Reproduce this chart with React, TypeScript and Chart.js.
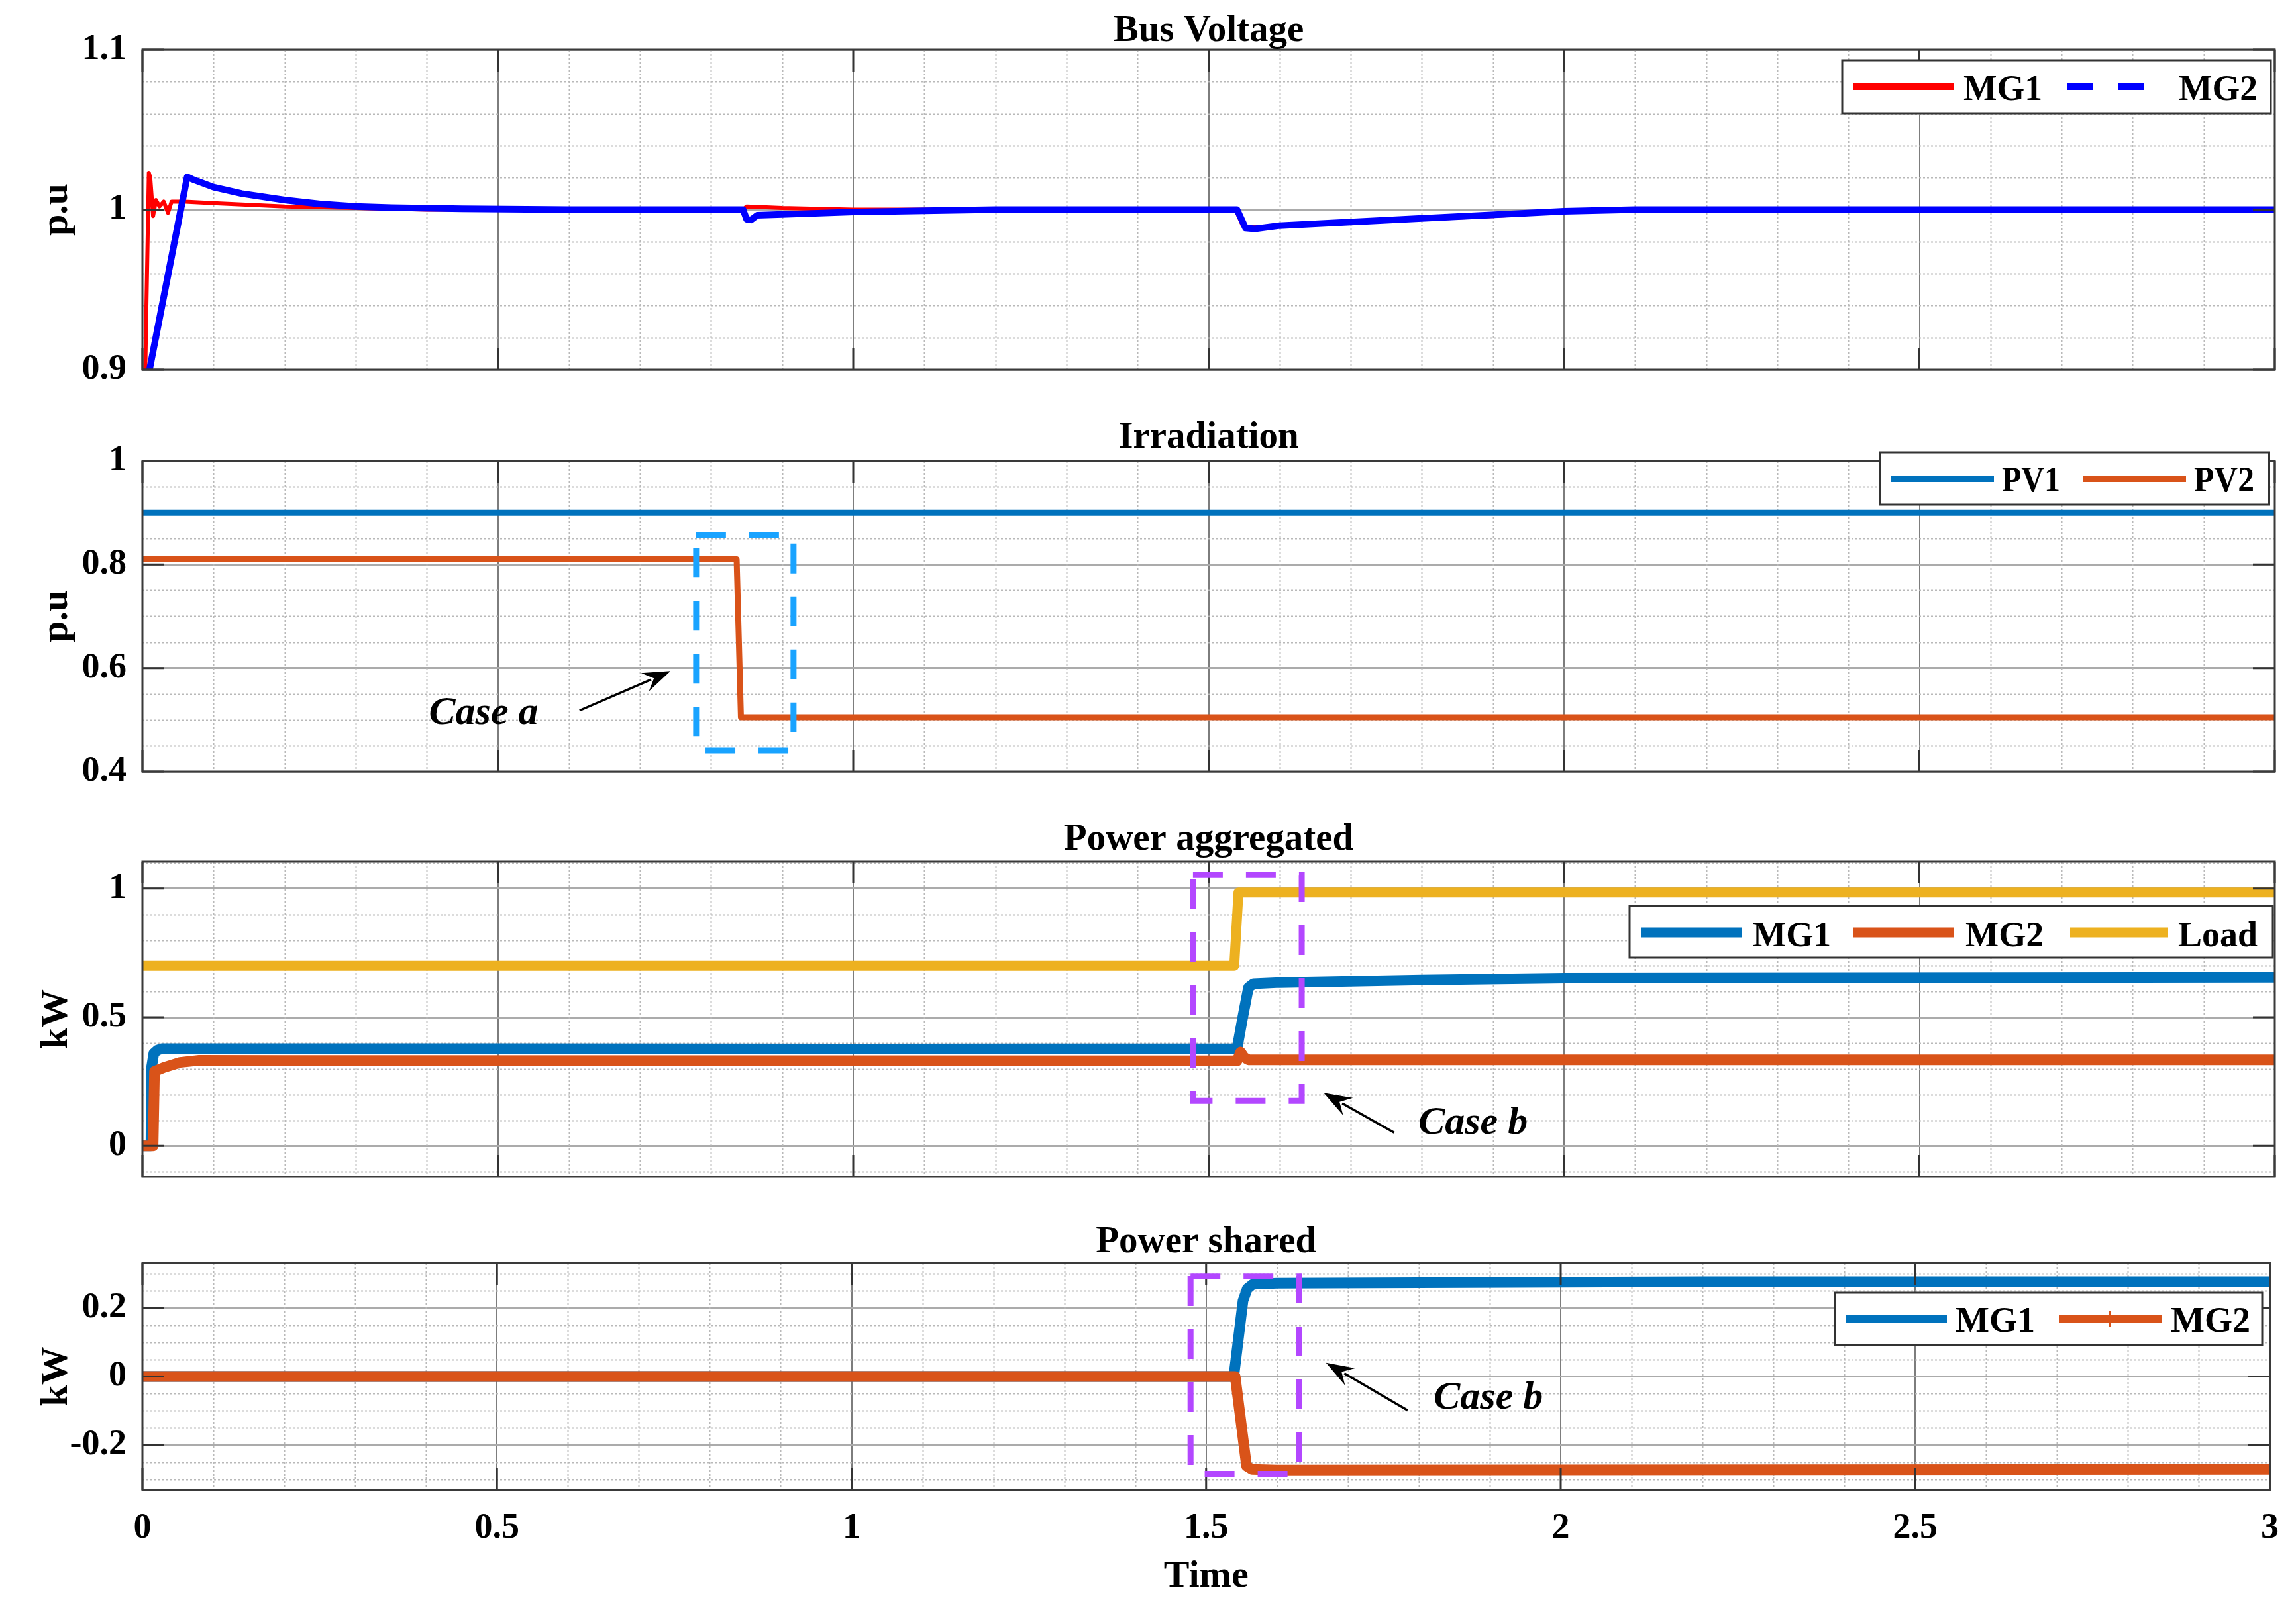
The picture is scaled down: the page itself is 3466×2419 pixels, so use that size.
import React, { useEffect, useRef } from "react";
import { Chart, registerables } from "chart.js";

Chart.register(...registerables);

const SERIF = '"Liberation Serif", "Times New Roman", Times, serif';

// ---------------- DATA ----------------
const TIME_TICKS = [0, 0.5, 1, 1.5, 2, 2.5, 3];

// Bus Voltage (p.u)
const BUS_MG1_T = [0, 0.004, 0.009, 0.011, 0.015, 0.019, 0.024, 0.03, 0.036, 0.041, 0.06, 0.1, 0.15, 0.2, 0.3, 0.4, 0.845, 0.85, 0.9, 1.0, 1.538, 1.548, 1.56, 1.7, 1.9, 2.05, 3];
const BUS_MG1_V = [0.9, 0.9, 1.023, 1.02, 0.996, 1.006, 1.002, 1.005, 0.998, 1.005, 1.005, 1.004, 1.003, 1.002, 1.001, 1.0, 1.0, 1.002, 1.001, 1.0, 1.0, 0.99, 0.989, 0.992, 0.996, 1.0, 1.0];
const BUS_MG2_T = [0.01, 0.063, 0.07, 0.1, 0.14, 0.2, 0.25, 0.3, 0.35, 0.45, 0.6, 0.845, 0.85, 0.856, 0.865, 0.9, 1.0, 1.1, 1.2, 1.54, 1.552, 1.565, 1.6, 1.8, 2.0, 2.1, 3];
const BUS_MG2_V = [0.9, 1.0205, 1.019, 1.014, 1.01, 1.006, 1.0035, 1.002, 1.0012, 1.0005, 1.0, 1.0, 0.994, 0.9935, 0.9965, 0.997, 0.9985, 0.9993, 1.0, 1.0, 0.9885, 0.988, 0.99, 0.9945, 0.999, 1.0, 1.0];
const BUS_Y_TICKS = [0.9, 1, 1.1];

// Irradiation (p.u)
const PV1_T = [0, 3];
const PV1_V = [0.9, 0.9];
const PV2_T = [0, 0.836, 0.842, 3];
const PV2_V = [0.81, 0.81, 0.505, 0.505];
const IRR_Y_TICKS = [0.4, 0.6, 0.8, 1];

// Power aggregated (kW)
const AGG_MG1_T = [0, 0.012, 0.0125, 0.016, 0.021, 0.027, 0.5, 1.0, 1.54, 1.548, 1.556, 1.563, 1.6, 1.8, 2.0, 3];
const AGG_MG1_V = [0, 0, 0.3, 0.36, 0.372, 0.378, 0.378, 0.377, 0.378, 0.5, 0.615, 0.63, 0.635, 0.645, 0.652, 0.655];
const AGG_MG2_T = [0, 0.015, 0.017, 0.03, 0.053, 0.08, 0.2, 1.54, 1.545, 1.55, 1.556, 3];
const AGG_MG2_V = [0, 0, 0.29, 0.305, 0.325, 0.333, 0.332, 0.331, 0.365, 0.345, 0.335, 0.335];
const LOAD_T = [0, 1.536, 1.542, 3];
const LOAD_V = [0.7, 0.7, 0.985, 0.985];
const AGG_Y_TICKS = [0, 0.5, 1];

// Power shared (kW)
const SH_MG1_T = [0, 1.539, 1.552, 1.558, 1.566, 1.6, 2.2, 3];
const SH_MG1_V = [0, 0, 0.22, 0.255, 0.268, 0.271, 0.275, 0.275];
const SH_MG2_T = [0, 1.541, 1.557, 1.565, 1.6, 3];
const SH_MG2_V = [0, 0, -0.26, -0.27, -0.272, -0.27];
const SH_Y_TICKS = [-0.2, 0, 0.2];

// ---------------- STYLE / LAYOUT ----------------
const C_RED = "#ff0000";
const C_BLUE = "#0000ff";
const C_MB = "#0072bd";
const C_MO = "#d95319";
const C_MY = "#edb120";
const C_CYAN = "#19a3ff";
const C_PURPLE = "#b347ff";

const W = 3466;
const LEFT = 215;
const RIGHT_PAD = 32;

type Series = { label: string; t: number[]; v: number[]; color: string; width: number };
type LegendItem = { x0: number; x1: number; color: string; width: number; dash?: number[]; marker?: boolean; text: string; tx: number; tw: number };
type Plot = {
  key: string;
  top: number;
  height: number;
  padTop: number;
  xH: number;
  yMin: number;
  yMax: number;
  yTicks: number[];
  yMinor: number;
  yLabel: string;
  title: string;
  titleBase: number;
  showX: boolean;
  series: Series[];
  legend: { box: number[]; lineY: number; textBase: number; items: LegendItem[] };
  boxes: { x0: number; x1: number; y0: number; y1: number; color: string }[];
  arrows: { tx: number; ty: number; hx: number; hy: number }[];
  notes: { text: string; x: number; y: number }[];
};

const PLOTS: Plot[] = [
  {
    key: "bus", top: 0, height: 620, padTop: 75, xH: 62,
    yMin: 0.9, yMax: 1.1, yTicks: BUS_Y_TICKS, yMinor: 0.02, yLabel: "p.u",
    title: "Bus Voltage", titleBase: 62, showX: false,
    series: [
      { label: "MG1", t: BUS_MG1_T, v: BUS_MG1_V, color: C_RED, width: 6 },
      { label: "MG2", t: BUS_MG2_T, v: BUS_MG2_V, color: C_BLUE, width: 10 },
    ],
    legend: {
      box: [2781, 91, 3428, 171], lineY: 131, textBase: 151,
      items: [
        { x0: 2798, x1: 2950, color: C_RED, width: 10, text: "MG1", tx: 2964, tw: 119 },
        { x0: 3120, x1: 3237, color: C_BLUE, width: 10, dash: [39, 39], text: "MG2", tx: 3289, tw: 119 },
      ],
    },
    boxes: [], arrows: [], notes: [],
  },
  {
    key: "irr", top: 620, height: 620, padTop: 76, xH: 75,
    yMin: 0.4, yMax: 1.0, yTicks: IRR_Y_TICKS, yMinor: 0.05, yLabel: "p.u",
    title: "Irradiation", titleBase: 676, showX: false,
    series: [
      { label: "PV1", t: PV1_T, v: PV1_V, color: C_MB, width: 9 },
      { label: "PV2", t: PV2_T, v: PV2_V, color: C_MO, width: 9 },
    ],
    legend: {
      box: [2838, 683, 3425, 762], lineY: 723, textBase: 742,
      items: [
        { x0: 2855, x1: 3010, color: C_MB, width: 10, text: "PV1", tx: 3022, tw: 88 },
        { x0: 3145, x1: 3300, color: C_MO, width: 10, text: "PV2", tx: 3312, tw: 91 },
      ],
    },
    boxes: [{ x0: 0.779, x1: 0.916, y0: 0.441, y1: 0.857, color: C_CYAN }],
    arrows: [{ tx: 0.615, ty: 0.518, hx: 0.743, hy: 0.594 }],
    notes: [{ text: "Case a", x: 0.48, y: 0.492 }],
  },
  {
    key: "agg", top: 1240, height: 600, padTop: 61, xH: 63,
    yMin: -0.12, yMax: 1.105, yTicks: AGG_Y_TICKS, yMinor: 0.1, yLabel: "kW",
    title: "Power aggregated", titleBase: 1283, showX: false,
    series: [
      { label: "MG1", t: AGG_MG1_T, v: AGG_MG1_V, color: C_MB, width: 16 },
      { label: "MG2", t: AGG_MG2_T, v: AGG_MG2_V, color: C_MO, width: 16 },
      { label: "Load", t: LOAD_T, v: LOAD_V, color: C_MY, width: 15 },
    ],
    legend: {
      box: [2460, 1368, 3431, 1446], lineY: 1408, textBase: 1429,
      items: [
        { x0: 2477, x1: 2629, color: C_MB, width: 15, text: "MG1", tx: 2646, tw: 118 },
        { x0: 2798, x1: 2950, color: C_MO, width: 15, text: "MG2", tx: 2967, tw: 118 },
        { x0: 3125, x1: 3273, color: C_MY, width: 15, text: "Load", tx: 3288, tw: 124 },
      ],
    },
    boxes: [{ x0: 1.478, x1: 1.631, y0: 0.175, y1: 1.053, color: C_PURPLE }],
    arrows: [{ tx: 1.761, ty: 0.052, hx: 1.662, hy: 0.206 }],
    notes: [{ text: "Case b", x: 1.872, y: 0.046 }],
  },
  {
    key: "sh", top: 1840, height: 579, padTop: 67, xH: 169,
    yMin: -0.33, yMax: 0.33, yTicks: SH_Y_TICKS, yMinor: 0.05, yLabel: "kW",
    title: "Power shared", titleBase: 1891, showX: true,
    series: [
      { label: "MG1", t: SH_MG1_T, v: SH_MG1_V, color: C_MB, width: 16 },
      { label: "MG2", t: SH_MG2_T, v: SH_MG2_V, color: C_MO, width: 16 },
    ],
    legend: {
      box: [2770, 1952, 3415, 2031], lineY: 1992, textBase: 2011,
      items: [
        { x0: 2787, x1: 2939, color: C_MB, width: 12, text: "MG1", tx: 2952, tw: 120 },
        { x0: 3108, x1: 3263, color: C_MO, width: 12, marker: true, text: "MG2", tx: 3277, tw: 121 },
      ],
    },
    boxes: [{ x0: 1.478, x1: 1.631, y0: -0.283, y1: 0.292, color: C_PURPLE }],
    arrows: [{ tx: 1.784, ty: -0.098, hx: 1.669, hy: 0.04 }],
    notes: [{ text: "Case b", x: 1.898, y: -0.094 }],
  },
];

const fmt = (v: number) => String(Number(Number(v).toFixed(3)));
const near = (v: number, arr: number[]) => arr.some((a) => Math.abs(a - v) < 1e-6);

function makeDeco(p: Plot) {
  const off = p.top;
  return {
    id: "deco_" + p.key,
    beforeDatasetsDraw(chart: any) {
      const { ctx, chartArea: a, scales } = chart;
      const x = scales.x, y = scales.y;
      ctx.save();
      ctx.beginPath();
      ctx.rect(a.left, a.top, a.right - a.left, a.bottom - a.top);
      ctx.clip();
      ctx.strokeStyle = "#b9b9b9";
      ctx.lineWidth = 2;
      ctx.setLineDash([3, 3]);
      for (let k = 0; k * 0.1 <= 3 + 1e-9; k++) {
        const v = k * 0.1;
        if (near(v, TIME_TICKS)) continue;
        const px = Math.round(x.getPixelForValue(v)) + 0.5;
        ctx.beginPath();
        ctx.moveTo(px, a.top);
        ctx.lineTo(px, a.bottom);
        ctx.stroke();
      }
      const k0 = Math.ceil(p.yMin / p.yMinor - 1e-9);
      for (let k = k0; k * p.yMinor <= p.yMax + 1e-9; k++) {
        const v = k * p.yMinor;
        if (near(v, p.yTicks)) continue;
        const py = Math.round(y.getPixelForValue(v)) + 0.5;
        ctx.beginPath();
        ctx.moveTo(a.left, py);
        ctx.lineTo(a.right, py);
        ctx.stroke();
      }
      ctx.restore();
    },
    afterDatasetsDraw(chart: any) {
      const { ctx, chartArea: a, scales } = chart;
      const x = scales.x, y = scales.y;
      ctx.save();
      // inner tick marks
      ctx.strokeStyle = "#333333";
      ctx.lineWidth = 3;
      ctx.setLineDash([]);
      const TL = 33;
      for (const v of TIME_TICKS) {
        const px = x.getPixelForValue(v);
        ctx.beginPath();
        ctx.moveTo(px, a.bottom);
        ctx.lineTo(px, a.bottom - TL);
        ctx.moveTo(px, a.top);
        ctx.lineTo(px, a.top + TL);
        ctx.stroke();
      }
      for (const v of p.yTicks) {
        const py = y.getPixelForValue(v);
        ctx.beginPath();
        ctx.moveTo(a.left, py);
        ctx.lineTo(a.left + TL, py);
        ctx.moveTo(a.right, py);
        ctx.lineTo(a.right - TL, py);
        ctx.stroke();
      }
      // frame
      ctx.strokeStyle = "#3a3a3a";
      ctx.lineWidth = 3;
      ctx.strokeRect(a.left, a.top, a.right - a.left, a.bottom - a.top);

      // dashed highlight boxes
      for (const b of p.boxes) {
        const l = x.getPixelForValue(b.x0), r = x.getPixelForValue(b.x1);
        const t = y.getPixelForValue(b.y1), bt = y.getPixelForValue(b.y0);
        ctx.strokeStyle = b.color;
        ctx.lineWidth = 9;
        ctx.setLineDash([45, 35]);
        ctx.strokeRect(l, t, r - l, bt - t);
      }
      ctx.setLineDash([]);
      // arrows
      for (const ar of p.arrows) {
        const x1 = x.getPixelForValue(ar.tx), y1 = y.getPixelForValue(ar.ty);
        const x2 = x.getPixelForValue(ar.hx), y2 = y.getPixelForValue(ar.hy);
        const ang = Math.atan2(y2 - y1, x2 - x1);
        const hl = 42, hw = 15;
        const bx = x2 - hl * Math.cos(ang), by = y2 - hl * Math.sin(ang);
        ctx.strokeStyle = "#000";
        ctx.lineWidth = 3.5;
        ctx.beginPath();
        ctx.moveTo(x1, y1);
        ctx.lineTo(bx + 10 * Math.cos(ang), by + 10 * Math.sin(ang));
        ctx.stroke();
        ctx.fillStyle = "#000";
        ctx.beginPath();
        ctx.moveTo(x2, y2);
        ctx.lineTo(bx + hw * Math.sin(ang), by - hw * Math.cos(ang));
        ctx.lineTo(bx + 0.35 * hl * Math.cos(ang), by + 0.35 * hl * Math.sin(ang));
        ctx.lineTo(bx - hw * Math.sin(ang), by + hw * Math.cos(ang));
        ctx.closePath();
        ctx.fill();
      }
      // notes
      for (const n of p.notes) {
        ctx.fillStyle = "#000";
        ctx.font = `italic bold 60px ${SERIF}`;
        ctx.textAlign = "center";
        ctx.textBaseline = "alphabetic";
        ctx.fillText(n.text, x.getPixelForValue(n.x), y.getPixelForValue(n.y));
      }
      // legend
      const L = p.legend;
      const [bx0, by0, bx1, by1] = L.box;
      ctx.fillStyle = "#ffffff";
      ctx.fillRect(bx0, by0 - off, bx1 - bx0, by1 - by0);
      ctx.strokeStyle = "#333333";
      ctx.lineWidth = 3;
      ctx.strokeRect(bx0, by0 - off, bx1 - bx0, by1 - by0);
      for (const it of L.items) {
        ctx.strokeStyle = it.color;
        ctx.lineWidth = it.width;
        ctx.setLineDash(it.dash || []);
        ctx.lineCap = "butt";
        ctx.beginPath();
        ctx.moveTo(it.x0, L.lineY - off);
        ctx.lineTo(it.x1, L.lineY - off);
        ctx.stroke();
        ctx.setLineDash([]);
        if (it.marker) {
          const mx = (it.x0 + it.x1) / 2;
          ctx.lineWidth = 3;
          ctx.beginPath();
          ctx.moveTo(mx, L.lineY - off - 12);
          ctx.lineTo(mx, L.lineY - off + 12);
          ctx.stroke();
        }
        ctx.fillStyle = "#000";
        ctx.font = `bold 54px ${SERIF}`;
        ctx.textAlign = "left";
        ctx.textBaseline = "alphabetic";
        ctx.fillText(it.text, it.tx, L.textBase - off, it.tw);
      }
      // title
      ctx.fillStyle = "#000";
      ctx.font = `bold 57px ${SERIF}`;
      ctx.textAlign = "center";
      ctx.textBaseline = "alphabetic";
      ctx.fillText(p.title, (a.left + a.right) / 2, p.titleBase - off);
      ctx.restore();
    },
  };
}

function SubPlot({ p }: { p: Plot }) {
  const ref = useRef<HTMLCanvasElement | null>(null);
  useEffect(() => {
    if (!ref.current) return;
    const tickFont = { family: SERIF, size: 54, weight: "bold" as const };
    const titleFont = { family: SERIF, size: 58, weight: "bold" as const };
    const n = p.series.length;
    const chart = new Chart(ref.current, {
      type: "line",
      data: {
        datasets: p.series.map((s, i) => ({
          label: s.label,
          data: s.t.map((t, j) => ({ x: t, y: s.v[j] })),
          borderColor: s.color,
          backgroundColor: s.color,
          borderWidth: s.width,
          pointRadius: 0,
          fill: false,
          tension: 0,
          borderJoinStyle: "round" as const,
          order: n - i,
        })),
      },
      options: {
        animation: false,
        responsive: false,
        maintainAspectRatio: false,
        devicePixelRatio: 1,
        events: [],
        layout: { padding: { left: 0, right: RIGHT_PAD, top: p.padTop, bottom: 0 } },
        plugins: { legend: { display: false }, tooltip: { enabled: false }, title: { display: false } },
        scales: {
          x: {
            type: "linear",
            min: 0,
            max: 3,
            afterBuildTicks: (s: any) => { s.ticks = TIME_TICKS.map((v) => ({ value: v })); },
            afterFit: (s: any) => { s.height = p.xH; },
            grid: { color: "#7d7d7d", lineWidth: 2, drawTicks: false },
            border: { display: false },
            ticks: {
              display: p.showX,
              padding: 26,
              color: "#000",
              font: tickFont,
              autoSkip: false,
              maxRotation: 0,
              callback: (v: any) => fmt(v),
            },
            title: { display: p.showX, text: "Time", color: "#000", font: titleFont, padding: { top: 0, bottom: 3 } },
          },
          y: {
            type: "linear",
            min: p.yMin,
            max: p.yMax,
            afterBuildTicks: (s: any) => { s.ticks = p.yTicks.map((v) => ({ value: v })); },
            afterFit: (s: any) => { s.width = LEFT; },
            grid: { color: "#ababab", lineWidth: 3, drawTicks: false },
            border: { display: false },
            ticks: {
              padding: 24,
              color: "#000",
              font: tickFont,
              autoSkip: false,
              callback: (v: any) => fmt(v),
            },
            title: { display: true, text: p.yLabel, color: "#000", font: titleFont, padding: { top: 51, bottom: 0 } },
          },
        },
      },
      plugins: [makeDeco(p)],
    } as any);
    return () => chart.destroy();
  }, [p]);
  return (
    <canvas
      ref={ref}
      width={W}
      height={p.height}
      style={{ position: "absolute", left: 0, top: p.top, width: W, height: p.height, display: "block" }}
    />
  );
}

export default function App() {
  return (
    <div style={{ position: "absolute", left: 0, top: 0, width: W, height: 2419, background: "#fff" }}>
      {PLOTS.map((p) => (
        <SubPlot key={p.key} p={p} />
      ))}
    </div>
  );
}
